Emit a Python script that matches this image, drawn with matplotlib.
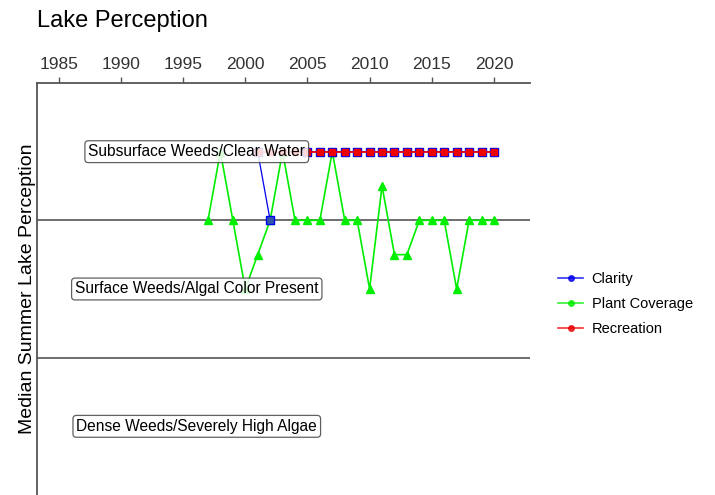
import numpy as np
import matplotlib.pyplot as plt
from matplotlib.lines import Line2D

plt.rcParams['font.family'] = ['Liberation Sans', 'DejaVu Sans']

# Perception scale: 1 = best (top), 4 = worst (bottom)
years = list(range(1997, 2021))
plant = [2, 1.5, 2, 2.5, 2.25, 2, 1.5, 2, 2, 2, 1.5, 2,
         2, 2.5, 1.75, 2.25, 2.25, 2, 2, 2, 2.5, 2, 2, 2]

clarity_years = list(range(2001, 2021))
clarity = [1.5, 2, np.nan, np.nan] + [1.5] * 16

recreation_years = list(range(2001, 2021))
recreation = [1.5] * 20

zone_labels = ['Subsurface Weeds/Clear Water',
               'Surface Weeds/Algal Color Present',
               'Dense Weeds/Severely High Algae']
zone_y = [1.5, 2.5, 3.5]
zone_lines = [2, 3]

GREEN = '#00EE00'
BLUE = '#0000EE'
RED = '#EE0000'
SPINE = '#555555'

fig = plt.figure(figsize=(7.15, 4.95), dpi=100)
ax = fig.add_axes([37 / 715, 0, 493 / 715, 412 / 495])

ax.plot(years, plant, '-^', color=GREEN, lw=1.2, ms=5.5, zorder=3)
ax.plot(clarity_years, clarity, '-s', color=BLUE, lw=0.9, ms=5.2, zorder=4,
        markerfacecolor='#3355AA')
ax.plot(recreation_years, recreation, '-s', color=RED, lw=1.2, ms=4.5, zorder=5)

for y in zone_lines:
    ax.axhline(y, color=SPINE, lw=1.2, zorder=2)

for lab, y in zip(zone_labels, zone_y):
    ax.text(1996.1, y, lab, ha='center', va='center', fontsize=11.2, zorder=6,
            bbox=dict(boxstyle='round,pad=0.22', facecolor='white',
                      edgecolor='#444444', alpha=0.85, lw=0.9))

ax.set_xlim(1983.25, 2022.9)
ax.set_ylim(4, 1)
ax.set_xticks(range(1985, 2021, 5))
ax.xaxis.tick_top()
ax.set_yticks([])
ax.tick_params(axis='x', colors=SPINE, labelcolor='#333333', labelsize=12.5,
               length=4, width=1, pad=4)
for side in ['right', 'bottom']:
    ax.spines[side].set_visible(False)
for side in ['left', 'top']:
    ax.spines[side].set_color(SPINE)
    ax.spines[side].set_linewidth(1.3)

ax.set_ylabel('Median Summer Lake Perception', fontsize=14, labelpad=1)
fig.text(37 / 715, 1 - 21 / 495, 'Lake Perception', fontsize=17,
         ha='left', va='center')

handles = [Line2D([], [], color=c, marker='o', ms=4, lw=1.2, alpha=0.8)
           for c in [BLUE, GREEN, RED]]
fig.legend(handles, ['Clarity', 'Plant Coverage', 'Recreation'],
           loc='center left', bbox_to_anchor=(545 / 715, 1 - 304 / 495),
           frameon=False, fontsize=10.5, handlelength=1.7, handletextpad=0.6,
           labelspacing=0.75)

fig.savefig('out.png', dpi=100, facecolor='white')
